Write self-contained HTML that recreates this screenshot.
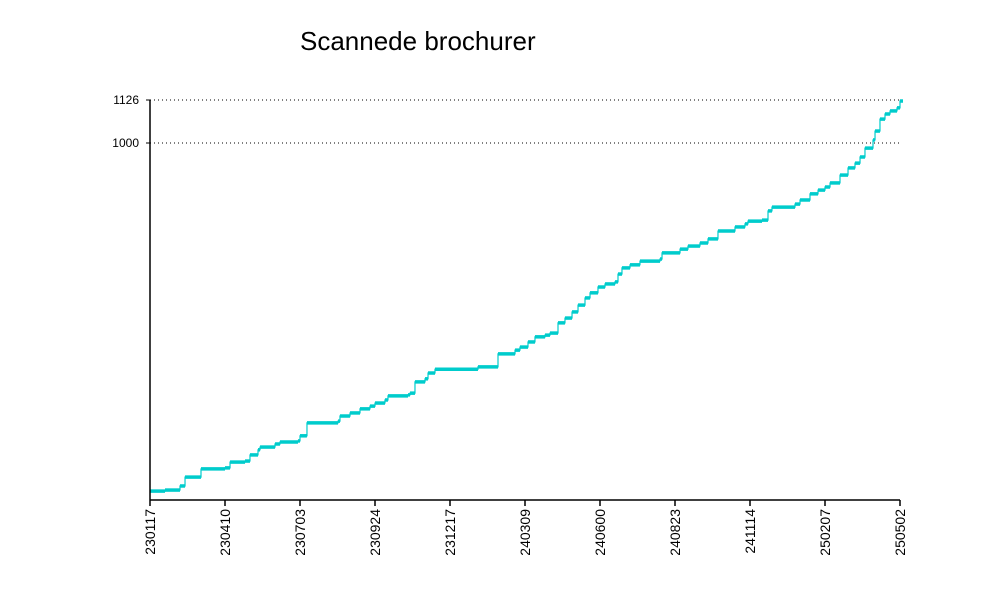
<!DOCTYPE html>
<html><head><meta charset="utf-8"><style>
html,body{margin:0;padding:0;background:#fff;width:1000px;height:600px;overflow:hidden}
svg text{font-family:"Liberation Sans",Arial,sans-serif}
</style></head><body>
<svg id="chart" width="1000" height="600" viewBox="0 0 1000 600">
<text x="300" y="50" font-size="26" fill="#000">Scannede brochurer</text>
<g id="grid"></g><g id="series"></g><g id="axes"></g>
</svg>
<script>
const xTickLabels=["230117","230410","230703","230924","231217","240309","240600","240823","241114","250207","250502"];
const yTickValues=[1000,1126];
const xPos=[0,0.2,0.4,0.467,0.667,0.68,1,1.067,1.267,1.333,1.44,1.467,1.667,1.733,1.973,2,2.08,2.093,2.507,2.533,2.667,2.8,2.933,3,3.133,3.173,3.44,3.467,3.533,3.667,3.707,3.8,4.373,4.64,4.867,4.933,5.04,5.133,5.267,5.333,5.44,5.533,5.627,5.707,5.8,5.867,5.973,6.067,6.2,6.24,6.293,6.4,6.533,6.8,6.827,7.067,7.173,7.333,7.44,7.573,7.8,7.933,7.973,8.16,8.24,8.293,8.6,8.667,8.8,8.907,9,9.067,9.2,9.307,9.4,9.467,9.533,9.64,9.667,9.733,9.8,9.867,9.96,10];
const yVals=[-20,-17,-5,21,21,45,48,65,68,86,101,109,118,124,127,142,142,180,185,200,209,221,229,238,247,259,262,267,300,309,326,337,344,382,393,402,417,432,437,443,473,487,505,525,546,561,578,587,593,616,634,643,654,660,678,689,698,707,719,742,754,763,771,774,801,812,821,833,851,862,871,883,906,927,941,959,985,1009,1035,1070,1085,1094,1103,1123];
const n=Math.min(xPos.length,yVals.length);
const X0=150,X1=900,Y0=500,YTOP=100;
const xs=v=>X0+(v/10)*(X1-X0);
const ys=v=>100+(1126-v)*43/126;
const NS="http://www.w3.org/2000/svg";
function mk(t,a,p){const e=document.createElementNS(NS,t);for(const k in a)e.setAttribute(k,a[k]);p.appendChild(e);return e;}
const grid=document.getElementById('grid'),axes=document.getElementById('axes'),ser=document.getElementById('series');
yTickValues.forEach(v=>{
 const l=mk('line',{x1:X0,x2:X1,y1:ys(v),y2:ys(v),stroke:'#000','stroke-width':1,'stroke-dasharray':'1,3'},grid);
 
 
 const tk=mk('line',{x1:X0-4,x2:X0,y1:ys(v),y2:ys(v),stroke:'#000'},axes);
 
 
 const t=mk('text',{x:X0-11,y:ys(v)+4,'font-size':12,'text-anchor':'end'},axes);t.textContent=v;
 
 
});
const ya=mk('line',{x1:X0,x2:X0,y1:YTOP,y2:Y0,stroke:'#000','stroke-width':1.5},axes);


const xa=mk('line',{x1:X0,x2:X1,y1:Y0,y2:Y0,stroke:'#000','stroke-width':1.5},axes);


xTickLabels.forEach((s,i)=>{
 const x=xs(i);
 const tk=mk('line',{x1:x,x2:x,y1:Y0,y2:Y0+6,stroke:'#000','stroke-width':1.5},axes);
 
 
 const t=mk('text',{x:0,y:0,'font-size':14,'text-anchor':'end',transform:`translate(${x+5},${Y0+9}) rotate(-90)`},axes);t.textContent=s;
 
 
});
let d='';
for(let i=0;i<n;i++){
 const x=xs(xPos[i]),y=ys(yVals[i]);
 if(i===0) d+='M'+x+','+y; else d+='V'+y;
 const x2=i<n-1?xs(xPos[i+1]):x+3;
 d+='H'+x2;
 const h=mk('line',{x1:x,x2:x2,y1:y,y2:y,stroke:'#00CCCC','stroke-width':3.5},ser);
 
 
}
const p=mk('path',{d:d,fill:'none',stroke:'#00CCCC','stroke-width':1.2},ser);


</script>
</body></html>
